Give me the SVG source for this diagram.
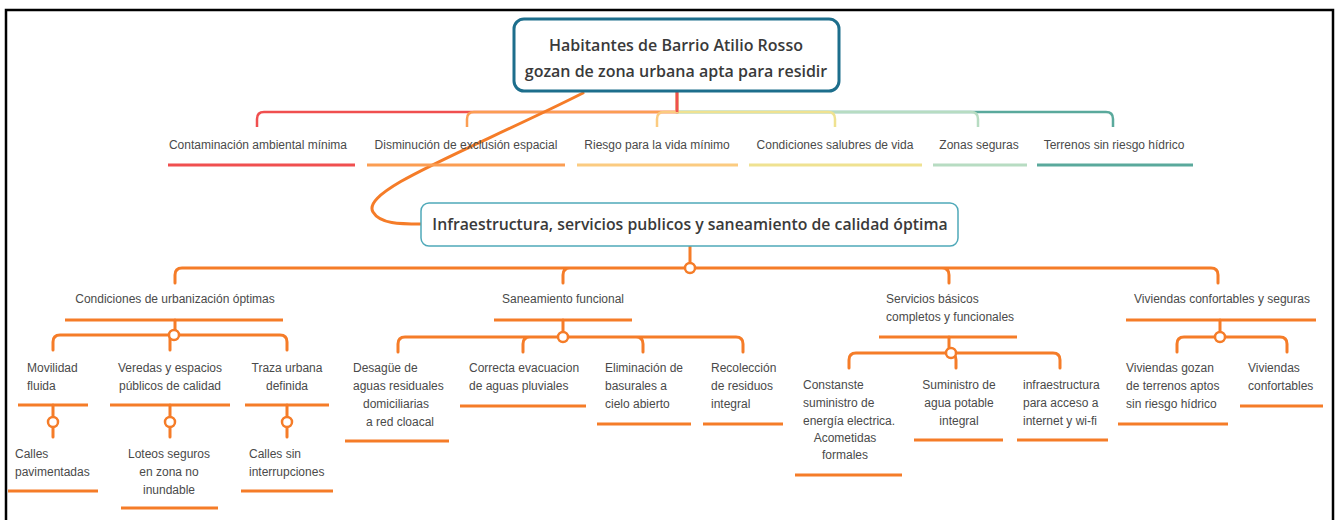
<svg xmlns="http://www.w3.org/2000/svg" width="1341" height="520" viewBox="0 0 1341 520">
<style>
text{font-family:"Liberation Sans",Arial,sans-serif;font-size:12px;fill:#4a4a4a}
.c{text-anchor:middle}
.root{font-family:"Open Sans","Liberation Sans",sans-serif;font-weight:600;font-size:16px;fill:#3a3a3a;text-anchor:middle}
.mid{font-family:"Open Sans","Liberation Sans",sans-serif;font-weight:600;font-size:15.8px;fill:#3a3a3a;text-anchor:middle}
.o{fill:none;stroke:#f57c28;stroke-width:3;stroke-linecap:round}
.ul{stroke-width:3;stroke-linecap:butt;fill:none}
.dot{fill:#fff;stroke:#f57c28;stroke-width:2.5}
</style>
<rect x="0" y="0" width="1341" height="520" fill="#fff"/>
<rect x="6" y="10" width="1327" height="530" fill="none" stroke="#000" stroke-width="2.5"/>

<g id="connectors">
  <path d="M677 92 V112 H1106 Q1113 112 1113 119 V127" fill="none" stroke="#5aa99c" stroke-width="2.5"/>
  <path d="M677 92 V112 H971 Q978 112 978 119 V127" fill="none" stroke="#b7dcc2" stroke-width="2.5"/>
  <path d="M677 92 V112 H828 Q835 112 835 119 V127" fill="none" stroke="#efe291" stroke-width="2.5"/>
  <path d="M677 92 V112 H264 Q257 112 257 119 V127" fill="none" stroke="#f04f4f" stroke-width="2.5"/>
  <path d="M677 92 V112 H474 Q467 112 467 119 V127" fill="none" stroke="#fb9d52" stroke-width="2.5"/>
  <path d="M677 92 V112 H664 Q657 112 657 119 V127" fill="none" stroke="#fbcb80" stroke-width="2.5"/>
  <path d="M677 92 V112" fill="none" stroke="#f04f4f" stroke-width="2.5"/>
  <path d="M583 93 C470 150 360 190 373 212 C380 224 400 224 421 224" class="o"/>
  <path d="M690 246 V268 M182 268 H1211 M182 268 Q175 268 175 275 V283 M1211 268 Q1218 268 1218 275 V283 M563 283 V275 Q563 268 570 268 M949 283 V275 Q949 268 942 268" class="o"/>
  <circle cx="690" cy="268" r="5" class="dot"/>
  <path d="M175 320 V335 M60 335 H280 M60 335 Q53 335 53 342 V350 M280 335 Q287 335 287 342 V350 M170 335 V350" class="o"/>
  <circle cx="174" cy="335" r="5" class="dot"/>
  <path d="M53 405 V437 M170 405 V437 M287 405 V437" class="o"/>
  <circle cx="53" cy="422" r="5" class="dot"/>
  <circle cx="170" cy="422" r="5" class="dot"/>
  <circle cx="287" cy="422" r="5" class="dot"/>
  <path d="M563 320 V337 M405 337 H736 M405 337 Q398 337 398 344 V352 M736 337 Q743 337 743 344 V352 M523 352 V344 Q523 337 530 337 M643 352 V344 Q643 337 636 337" class="o"/>
  <circle cx="563" cy="337" r="5" class="dot"/>
  <path d="M949 337 V353 M856 353 H1053 M856 353 Q849 353 849 360 V368 M1053 353 Q1060 353 1060 360 V368 M956 368 V360 Q956 353 949 353" class="o"/>
  <circle cx="951" cy="353" r="5" class="dot"/>
  <path d="M1220 320 V337 M1184 337 H1280 M1184 337 Q1177 337 1177 344 V352 M1280 337 Q1287 337 1287 344 V352" class="o"/>
  <circle cx="1220" cy="337" r="5" class="dot"/>
</g>

<g id="root">
  <rect x="514" y="19" width="325" height="72" rx="10" fill="#fff" stroke="#1d6e8c" stroke-width="3"/>
  <text class="root" x="676" y="51">Habitantes de Barrio Atilio Rosso</text>
  <text class="root" x="676" y="77">gozan de zona urbana apta para residir</text>
</g>

<g id="goal1"><text class="c" x="258" y="149">Contaminación ambiental mínima</text><path d="M168 165 H355" class="ul" stroke="#f04f4f"/></g>
<g id="goal2"><text class="c" x="466" y="149">Disminución de exclusión espacial</text><path d="M367 165 H565" class="ul" stroke="#fb9d52"/></g>
<g id="goal3"><text class="c" x="657" y="149">Riesgo para la vida mínimo</text><path d="M577 165 H738" class="ul" stroke="#fbcb80"/></g>
<g id="goal4"><text class="c" x="835" y="149">Condiciones salubres de vida</text><path d="M749 165 H922" class="ul" stroke="#efe291"/></g>
<g id="goal5"><text class="c" x="979" y="149">Zonas seguras</text><path d="M933 165 H1027" class="ul" stroke="#b7dcc2"/></g>
<g id="goal6"><text class="c" x="1114" y="149">Terrenos sin riesgo hídrico</text><path d="M1037 165 H1193" class="ul" stroke="#5aa99c"/></g>

<g id="infra">
  <rect x="421" y="203" width="537" height="43" rx="8" fill="#fff" stroke="#4fa9b9" stroke-width="1.5"/>
  <text class="mid" x="690" y="230">Infraestructura, servicios publicos y saneamiento de calidad óptima</text>
</g>

<g id="urbanizacion"><text class="c" x="175" y="303">Condiciones de urbanización óptimas</text><path d="M65 320 H283" class="ul" stroke="#f57c28"/></g>
<g id="saneamiento"><text class="c" x="563" y="303">Saneamiento funcional</text><path d="M494 320 H632" class="ul" stroke="#f57c28"/></g>
<g id="servicios"><text x="886" y="303">Servicios básicos</text><text x="886" y="321">completos y funcionales</text><path d="M879 337 H1017" class="ul" stroke="#f57c28"/></g>
<g id="viviendas"><text class="c" x="1222" y="303">Viviendas confortables y seguras</text><path d="M1126 320 H1316" class="ul" stroke="#f57c28"/></g>

<g id="movilidad"><text x="27" y="372">Movilidad</text><text x="27" y="390">fluida</text><path d="M18 405 H88" class="ul" stroke="#f57c28"/></g>
<g id="veredas"><text class="c" x="170" y="372">Veredas y espacios</text><text class="c" x="170" y="390">públicos de calidad</text><path d="M110 405 H230" class="ul" stroke="#f57c28"/></g>
<g id="traza"><text class="c" x="287" y="372">Traza urbana</text><text class="c" x="287" y="390">definida</text><path d="M245 405 H329" class="ul" stroke="#f57c28"/></g>
<g id="calles"><text x="15" y="458">Calles</text><text x="15" y="476">pavimentadas</text><path d="M8 491 H98" class="ul" stroke="#f57c28"/></g>
<g id="loteos"><text class="c" x="169" y="458">Loteos seguros</text><text class="c" x="169" y="476">en zona no</text><text class="c" x="169" y="494">inundable</text><path d="M121 508 H218" class="ul" stroke="#f57c28"/></g>
<g id="callesSin"><text x="249" y="458">Calles sin</text><text x="249" y="476">interrupciones</text><path d="M241 491 H333" class="ul" stroke="#f57c28"/></g>

<g id="desague"><text x="353" y="372">Desagüe de</text><text x="353" y="390">aguas residuales</text><text x="363" y="408">domiciliarias</text><text x="366" y="426">a red cloacal</text><path d="M345 441 H449" class="ul" stroke="#f57c28"/></g>
<g id="evacuacion"><text x="469" y="372">Correcta evacuacion</text><text x="469" y="390">de aguas pluviales</text><path d="M460 406 H586" class="ul" stroke="#f57c28"/></g>
<g id="basurales"><text x="605" y="372">Eliminación de</text><text x="605" y="390">basurales a</text><text x="605" y="408">cielo abierto</text><path d="M597 424 H691" class="ul" stroke="#f57c28"/></g>
<g id="residuos"><text x="711" y="372">Recolección</text><text x="711" y="390">de residuos</text><text x="711" y="408">integral</text><path d="M703 424 H783" class="ul" stroke="#f57c28"/></g>

<g id="energia"><text x="803" y="389">Constanste</text><text x="803" y="407">suministro de</text><text x="803" y="425">energía electrica.</text><text class="c" x="845" y="442">Acometidas</text><text class="c" x="845" y="459">formales</text><path d="M795 475 H902" class="ul" stroke="#f57c28"/></g>
<g id="agua"><text class="c" x="959" y="389">Suministro de</text><text class="c" x="959" y="407">agua potable</text><text class="c" x="959" y="425">integral</text><path d="M914 440 H1003" class="ul" stroke="#f57c28"/></g>
<g id="internet"><text x="1023" y="389">infraestructura</text><text x="1023" y="407">para acceso a</text><text x="1023" y="425">internet y wi-fi</text><path d="M1017 440 H1108" class="ul" stroke="#f57c28"/></g>

<g id="terrenos"><text x="1126" y="372">Viviendas gozan</text><text x="1126" y="390">de terrenos aptos</text><text x="1126" y="408">sin riesgo hídrico</text><path d="M1118 424 H1228" class="ul" stroke="#f57c28"/></g>
<g id="confortables"><text x="1248" y="372">Viviendas</text><text x="1248" y="390">confortables</text><path d="M1240 406 H1323" class="ul" stroke="#f57c28"/></g>
</svg>
